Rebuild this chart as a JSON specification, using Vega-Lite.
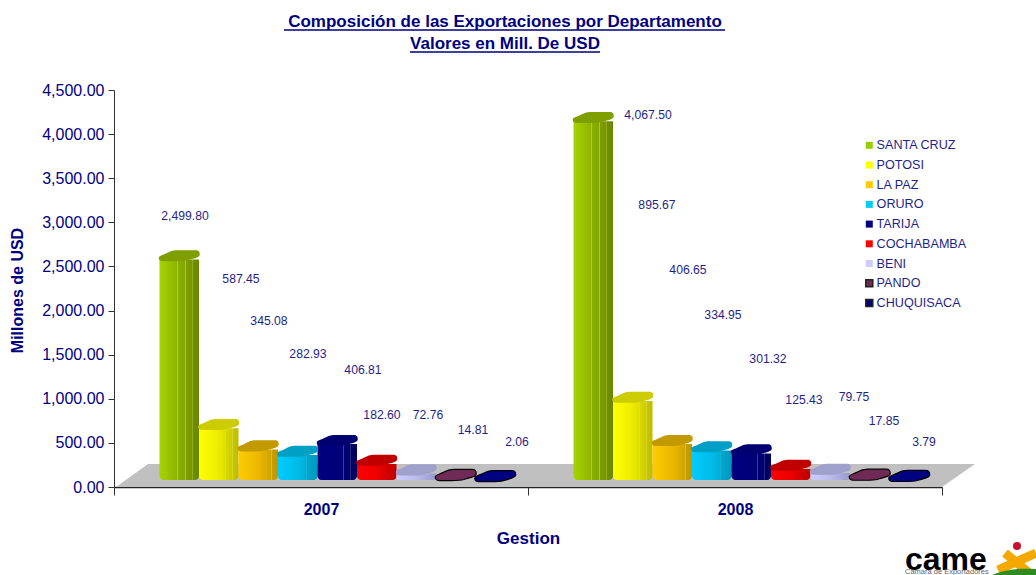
{"$schema":"https://vega.github.io/schema/vega-lite/v6.json","width":828,"height":397,"autosize":"none","padding":{"left":114,"top":90,"right":94,"bottom":88},"background":"white","config":{"view":{"stroke":null},"font":"Liberation Sans"},
"title":{"text":["Composición de las Exportaciones por Departamento","Valores en Mill. De USD"],"font":"Liberation Sans","fontSize":17,"fontWeight":"bold","color":"#000080","lineHeight":22,"anchor":"middle","dx":-23,"offset":-26},
"data":{"values":[
{"dept":"SANTA CRUZ","year":"2007","value":2499.80,"label_x":71,"label_y":3072},
{"dept":"POTOSI","year":"2007","value":587.45,"label_x":127,"label_y":2358},
{"dept":"LA PAZ","year":"2007","value":345.08,"label_x":155,"label_y":1882},
{"dept":"ORURO","year":"2007","value":282.93,"label_x":194,"label_y":1508},
{"dept":"TARIJA","year":"2007","value":406.81,"label_x":249,"label_y":1326},
{"dept":"COCHABAMBA","year":"2007","value":182.60,"label_x":268,"label_y":816},
{"dept":"BENI","year":"2007","value":72.76,"label_x":314,"label_y":816},
{"dept":"PANDO","year":"2007","value":14.81,"label_x":359,"label_y":646},
{"dept":"CHUQUISACA","year":"2007","value":2.06,"label_x":403,"label_y":510},
{"dept":"SANTA CRUZ","year":"2008","value":4067.50,"label_x":120,"label_y":4217},
{"dept":"POTOSI","year":"2008","value":895.67,"label_x":129,"label_y":3196},
{"dept":"LA PAZ","year":"2008","value":406.65,"label_x":160,"label_y":2460},
{"dept":"ORURO","year":"2008","value":334.95,"label_x":195,"label_y":1950},
{"dept":"TARIJA","year":"2008","value":301.32,"label_x":240,"label_y":1451},
{"dept":"COCHABAMBA","year":"2008","value":125.43,"label_x":276,"label_y":986},
{"dept":"BENI","year":"2008","value":79.75,"label_x":326,"label_y":1020},
{"dept":"PANDO","year":"2008","value":17.85,"label_x":356,"label_y":749},
{"dept":"CHUQUISACA","year":"2008","value":3.79,"label_x":396,"label_y":510}
]},
"resolve":{"scale":{"fill":"independent","stroke":"independent","xOffset":"independent"}},
"layer":[
{"data":{"values":[{"part":"floor"}]},"mark":{"type":"point","filled":true,"opacity":1,"fill":"#c0c0c0","stroke":null,"size":40000,"shape":"M-6.19,0 L-5.87,-0.23 L2.40,-0.23 L2.07,0 Z"},
"encoding":{"x":{"datum":"2008","type":"nominal","scale":{"domain":["2007","2008"],"paddingInner":0,"paddingOuter":0},"axis":{"title":"Gestion","titleFont":"Liberation Sans","titleFontSize":17,"titleFontWeight":"bold","titleColor":"#000080","titleY":51,"titleBaseline":"middle","labelAngle":0,"labelFont":"Liberation Sans","labelFontSize":16,"labelFontWeight":"bold","labelColor":"#000080","labelPadding":6,"tickBand":"extent","tickSize":8,"tickColor":"#333333","domainColor":"#222222","domainWidth":1.5,"grid":false}},
"y":{"datum":0,"type":"quantitative","scale":{"domain":[0,4500],"nice":false},"axis":{"values":[0,500,1000,1500,2000,2500,3000,3500,4000,4500],"format":",.2f","title":"Millones de USD","titleFont":"Liberation Sans","titleFontSize":16,"titleFontWeight":"bold","titleColor":"#000080","titleX":-89,"titleY":200,"labelFont":"Liberation Sans","labelFontSize":16,"labelColor":"#000080","labelPadding":4,"tickSize":6,"tickColor":"#333333","domainColor":"#333333","grid":false}}}},
{"transform":[{"filter":"datum.dept==='SANTA CRUZ'"}],"mark":{"type":"bar","yOffset":-7,"y2Offset":-7,"cornerRadiusBottomLeft":4,"cornerRadiusBottomRight":4,"fill":{"gradient":"linear","x1":0,"x2":1,"y1":0,"y2":0,"stops":[{"offset":0,"color":"#a6d400"},{"offset":0.45,"color":"#8fb400"},{"offset":0.46,"color":"#c4dc60"},{"offset":0.475,"color":"#8ab000"},{"offset":0.65,"color":"#83a500"},{"offset":0.66,"color":"#b4cc50"},{"offset":0.675,"color":"#7d9e00"},{"offset":0.83,"color":"#769400"},{"offset":0.84,"color":"#a8c040"},{"offset":0.855,"color":"#708e00"},{"offset":1,"color":"#6a8600"}]}},
"encoding":{"x":{"field":"year","type":"nominal"},"xOffset":{"field":"dept","type":"nominal","scale":{"type":"band","paddingInner":0,"paddingOuter":0,"range":[45.5,401],"domain":["SANTA CRUZ","POTOSI","LA PAZ","ORURO","TARIJA","COCHABAMBA","BENI","PANDO","CHUQUISACA"]}},"y":{"field":"value","type":"quantitative","stack":null},"y2":{"datum":0}}},
{"transform":[{"filter":"datum.dept==='POTOSI'"}],"mark":{"type":"bar","yOffset":-7,"y2Offset":-7,"cornerRadiusBottomLeft":4,"cornerRadiusBottomRight":4,"fill":{"gradient":"linear","x1":0,"x2":1,"y1":0,"y2":0,"stops":[{"offset":0,"color":"#ffff00"},{"offset":0.45,"color":"#eeee00"},{"offset":0.65,"color":"#e0e000"},{"offset":0.66,"color":"#f0f060"},{"offset":0.675,"color":"#dada00"},{"offset":0.83,"color":"#cccc00"},{"offset":0.84,"color":"#e6e660"},{"offset":0.855,"color":"#c6c600"},{"offset":1,"color":"#bdbd00"}]}},
"encoding":{"x":{"field":"year","type":"nominal"},"xOffset":{"field":"dept","type":"nominal","scale":{"type":"band","paddingInner":0,"paddingOuter":0,"range":[45.5,401],"domain":["SANTA CRUZ","POTOSI","LA PAZ","ORURO","TARIJA","COCHABAMBA","BENI","PANDO","CHUQUISACA"]}},"y":{"field":"value","type":"quantitative","stack":null},"y2":{"datum":0}}},
{"transform":[{"filter":"datum.dept==='LA PAZ'"}],"mark":{"type":"bar","yOffset":-7,"y2Offset":-7,"cornerRadiusBottomLeft":4,"cornerRadiusBottomRight":4,"fill":{"gradient":"linear","x1":0,"x2":1,"y1":0,"y2":0,"stops":[{"offset":0,"color":"#ffcc00"},{"offset":0.5,"color":"#ecb800"},{"offset":0.83,"color":"#d0a400"},{"offset":0.84,"color":"#e8c860"},{"offset":0.855,"color":"#c89e00"},{"offset":1,"color":"#bd9600"}]}},
"encoding":{"x":{"field":"year","type":"nominal"},"xOffset":{"field":"dept","type":"nominal","scale":{"type":"band","paddingInner":0,"paddingOuter":0,"range":[45.5,401],"domain":["SANTA CRUZ","POTOSI","LA PAZ","ORURO","TARIJA","COCHABAMBA","BENI","PANDO","CHUQUISACA"]}},"y":{"field":"value","type":"quantitative","stack":null},"y2":{"datum":0}}},
{"transform":[{"filter":"datum.dept==='ORURO'"}],"mark":{"type":"bar","yOffset":-7,"y2Offset":-7,"cornerRadiusBottomLeft":4,"cornerRadiusBottomRight":4,"fill":{"gradient":"linear","x1":0,"x2":1,"y1":0,"y2":0,"stops":[{"offset":0,"color":"#00ccff"},{"offset":0.5,"color":"#00bce8"},{"offset":0.7,"color":"#00aed8"},{"offset":0.71,"color":"#60d0ea"},{"offset":0.725,"color":"#00a8d0"},{"offset":1,"color":"#0096bb"}]}},
"encoding":{"x":{"field":"year","type":"nominal"},"xOffset":{"field":"dept","type":"nominal","scale":{"type":"band","paddingInner":0,"paddingOuter":0,"range":[45.5,401],"domain":["SANTA CRUZ","POTOSI","LA PAZ","ORURO","TARIJA","COCHABAMBA","BENI","PANDO","CHUQUISACA"]}},"y":{"field":"value","type":"quantitative","stack":null},"y2":{"datum":0}}},
{"transform":[{"filter":"datum.dept==='TARIJA'"}],"mark":{"type":"bar","yOffset":-7,"y2Offset":-7,"cornerRadiusBottomLeft":4,"cornerRadiusBottomRight":4,"fill":{"gradient":"linear","x1":0,"x2":1,"y1":0,"y2":0,"stops":[{"offset":0,"color":"#000080"},{"offset":0.65,"color":"#00007a"},{"offset":0.66,"color":"#4a4aa8"},{"offset":0.675,"color":"#000074"},{"offset":0.83,"color":"#000068"},{"offset":0.84,"color":"#4a4aa0"},{"offset":0.855,"color":"#000066"},{"offset":1,"color":"#000060"}]}},
"encoding":{"x":{"field":"year","type":"nominal"},"xOffset":{"field":"dept","type":"nominal","scale":{"type":"band","paddingInner":0,"paddingOuter":0,"range":[45.5,401],"domain":["SANTA CRUZ","POTOSI","LA PAZ","ORURO","TARIJA","COCHABAMBA","BENI","PANDO","CHUQUISACA"]}},"y":{"field":"value","type":"quantitative","stack":null},"y2":{"datum":0}}},
{"transform":[{"filter":"datum.dept==='COCHABAMBA'"}],"mark":{"type":"bar","yOffset":-7,"y2Offset":-7,"cornerRadiusBottomLeft":4,"cornerRadiusBottomRight":4,"fill":{"gradient":"linear","x1":0,"x2":1,"y1":0,"y2":0,"stops":[{"offset":0,"color":"#ff0000"},{"offset":0.5,"color":"#ee0000"},{"offset":1,"color":"#bb0000"}]}},
"encoding":{"x":{"field":"year","type":"nominal"},"xOffset":{"field":"dept","type":"nominal","scale":{"type":"band","paddingInner":0,"paddingOuter":0,"range":[45.5,401],"domain":["SANTA CRUZ","POTOSI","LA PAZ","ORURO","TARIJA","COCHABAMBA","BENI","PANDO","CHUQUISACA"]}},"y":{"field":"value","type":"quantitative","stack":null},"y2":{"datum":0}}},
{"transform":[{"filter":"datum.dept==='BENI'"}],"mark":{"type":"bar","yOffset":-7,"y2Offset":-7,"cornerRadiusBottomLeft":4,"cornerRadiusBottomRight":4,"fill":{"gradient":"linear","x1":0,"x2":1,"y1":0,"y2":0,"stops":[{"offset":0,"color":"#ccccff"},{"offset":0.5,"color":"#bbbbee"},{"offset":1,"color":"#9999cc"}]}},
"encoding":{"x":{"field":"year","type":"nominal"},"xOffset":{"field":"dept","type":"nominal","scale":{"type":"band","paddingInner":0,"paddingOuter":0,"range":[45.5,401],"domain":["SANTA CRUZ","POTOSI","LA PAZ","ORURO","TARIJA","COCHABAMBA","BENI","PANDO","CHUQUISACA"]}},"y":{"field":"value","type":"quantitative","stack":null},"y2":{"datum":0}}},
{"mark":{"type":"point","filled":true,"opacity":1,"size":1681,"strokeWidth":1.2,"yOffset":-10.7,"shape":"M-1,0.1 C-1,0 -0.75,-0.05 -0.6,-0.13 C-0.45,-0.22 -0.35,-0.27 -0.1,-0.27 L0.8,-0.27 C1,-0.27 1,-0.15 1,-0.05 C1,0.1 0.6,0.15 0.4,0.22 C0.2,0.27 0,0.27 -0.2,0.27 L-0.8,0.27 C-0.95,0.27 -1,0.2 -1,0.1 Z"},
"encoding":{"x":{"field":"year","type":"nominal"},"xOffset":{"field":"dept","type":"nominal","scale":{"type":"band","paddingInner":0,"paddingOuter":0,"range":[45.5,401],"domain":["SANTA CRUZ","POTOSI","LA PAZ","ORURO","TARIJA","COCHABAMBA","BENI","PANDO","CHUQUISACA"]}},"y":{"field":"value","type":"quantitative"},
"fill":{"field":"dept","type":"nominal","legend":null,"scale":{"domain":["SANTA CRUZ","POTOSI","LA PAZ","ORURO","TARIJA","COCHABAMBA","BENI","PANDO","CHUQUISACA"],"range":["#7f9f00","#cccc00","#c29a00","#00a0c6","#000070","#c00000","#a0a0cc","#6f2a55","#000080"]}},
"stroke":{"field":"dept","type":"nominal","legend":null,"scale":{"domain":["SANTA CRUZ","POTOSI","LA PAZ","ORURO","TARIJA","COCHABAMBA","BENI","PANDO","CHUQUISACA"],"range":["transparent","transparent","transparent","transparent","transparent","transparent","transparent","#000000","#000000"]}}}},
{"mark":{"type":"text","font":"Liberation Sans","fontSize":12.2,"color":"#1f1f8a","align":"center","baseline":"middle"},
"encoding":{"x":{"field":"year","type":"nominal","bandPosition":0},"xOffset":{"field":"label_x","type":"quantitative","scale":{"domain":[0,414],"range":[0,414]}},"y":{"field":"label_y","type":"quantitative"},"text":{"field":"value","type":"quantitative","format":",.2f"}}},
{"mark":{"type":"point","filled":true,"opacity":1,"size":0,"strokeWidth":1.5},
"encoding":{"y":{"field":"value","type":"quantitative"},
"fill":{"field":"dept","type":"nominal","title":null,"scale":{"domain":["SANTA CRUZ","POTOSI","LA PAZ","ORURO","TARIJA","COCHABAMBA","BENI","PANDO","CHUQUISACA"],"range":["#99cc00","#ffff00","#ffcc00","#00ccff","#000080","#ff0000","#ccccff","#6f2a55","#000080"]},"legend":{"orient":"none","legendX":749,"legendY":49,"symbolType":"square","symbolSize":49,"symbolOpacity":1,"labelFont":"Liberation Sans","labelFontSize":12.6,"labelColor":"#1f1f8a","labelOffset":1,"rowPadding":5.7,"title":null}},
"stroke":{"field":"dept","type":"nominal","title":null,"scale":{"domain":["SANTA CRUZ","POTOSI","LA PAZ","ORURO","TARIJA","COCHABAMBA","BENI","PANDO","CHUQUISACA"],"range":["transparent","transparent","transparent","transparent","transparent","transparent","transparent","#222222","#222222"]},"legend":{"orient":"none","legendX":749,"legendY":49,"symbolType":"square","symbolSize":49,"symbolOpacity":1,"labelFont":"Liberation Sans","labelFontSize":12.6,"labelColor":"#1f1f8a","labelOffset":1,"rowPadding":5.7,"title":null}}}},
{"data":{"values":[{"part":"title underline"}]},"mark":{"type":"point","filled":false,"opacity":1,"stroke":"#000080","strokeWidth":1.5,"size":40000,"shape":"M-4.51,-4.57 L-0.10,-4.57 M-3.25,-4.35 L-1.35,-4.35"},
"encoding":{"x":{"datum":"2008","type":"nominal"},"y":{"datum":0,"type":"quantitative"}}},
{"data":{"values":[{"logo":"came"}]},"mark":{"type":"text","font":"Liberation Sans","fontWeight":"bold","fontSize":32,"color":"#000000","align":"left","baseline":"alphabetic","dx":170,"dy":83},
"encoding":{"x":{"datum":"2008","type":"nominal"},"y":{"datum":0,"type":"quantitative"},"text":{"field":"logo"}}},
{"data":{"values":[{"logo":"Cámara de Exportadores"}]},"mark":{"type":"text","font":"Liberation Sans","fontSize":7.5,"color":"#666666","align":"left","baseline":"alphabetic","dx":170,"dy":87},
"encoding":{"x":{"datum":"2008","type":"nominal"},"y":{"datum":0,"type":"quantitative"},"text":{"field":"logo"}}},
{"data":{"values":[{"part":"logo x"}]},"mark":{"type":"point","filled":false,"opacity":1,"stroke":"#f5a800","strokeWidth":9,"size":40000,"shape":"M2.70,0.66 L2.93,0.85 M3.01,0.66 L2.63,0.83"},
"encoding":{"x":{"datum":"2008","type":"nominal"},"y":{"datum":0,"type":"quantitative"}}},
{"data":{"values":[{"part":"logo swoosh"}]},"mark":{"type":"point","filled":true,"opacity":1,"fill":"#2e8b1f","stroke":null,"size":40000,"shape":"M2.57,0.88 C2.7,0.82 2.85,0.81 3.01,0.82 L3.01,0.88 Z"},
"encoding":{"x":{"datum":"2008","type":"nominal"},"y":{"datum":0,"type":"quantitative"}}},
{"data":{"values":[{"part":"logo dot"}]},"mark":{"type":"point","filled":true,"opacity":1,"fill":"#c8102e","stroke":null,"size":64,"shape":"circle","xOffset":282,"yOffset":59},
"encoding":{"x":{"datum":"2008","type":"nominal"},"y":{"datum":0,"type":"quantitative"}}}
]}
